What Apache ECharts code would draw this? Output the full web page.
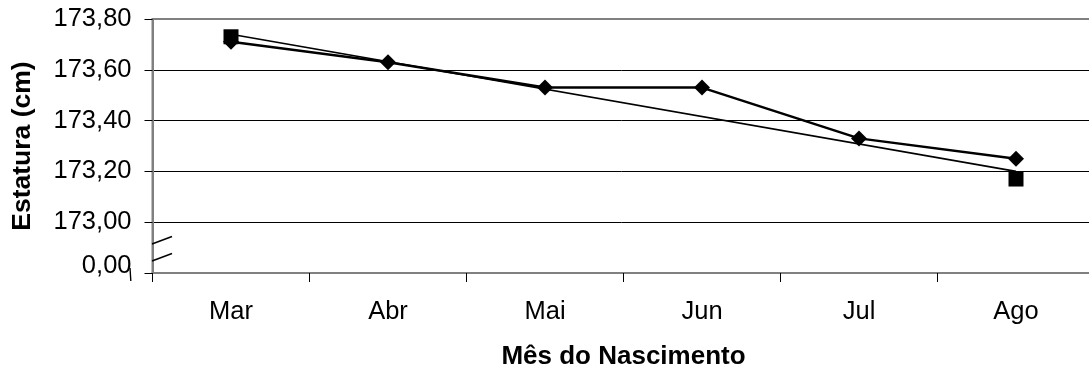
<!DOCTYPE html>
<html>
<head>
<meta charset="utf-8">
<script src="https://cdn.jsdelivr.net/npm/echarts@6/dist/echarts.min.js"></script>
<style>
  html, body { margin: 0; padding: 0; background: #fff; }
  #chart { width: 1089px; height: 372px; }
</style>
</head>
<body>
<div id="chart"></div>
<script>
// Month of birth and mean height (cm)
const months = ['Mar', 'Abr', 'Mai', 'Jun', 'Jul', 'Ago'];
const heightMean = [173.71, 173.63, 173.53, 173.53, 173.33, 173.25];
// Square markers at the two ends of the period
const heightEnds = [173.73, null, null, null, null, 173.17];
// Linear trend across the months (end points only)
const heightTrend = [173.74, null, null, null, null, 173.20];
// Axis scale: the lowest tick stands for the broken-off zero
const yMin = 172.8, yMax = 173.8, yStep = 0.2;

const FONT = 'Arial, "Liberation Sans", sans-serif';

const chart = echarts.init(document.getElementById('chart'), null, { renderer: 'canvas' });

chart.setOption({
  animation: false,
  backgroundColor: '#fff',
  grid: {
    left: 152.5, top: 19, width: 942, height: 254,
    outerBoundsMode: 'none',
    containLabel: false,
    show: true, borderColor: '#808080', borderWidth: 2, backgroundColor: 'transparent'
  },
  xAxis: {
    type: 'category',
    data: months,
    boundaryGap: true,
    name: 'Mês do Nascimento',
    nameLocation: 'middle',
    nameGap: 71,
    nameTextStyle: { fontFamily: FONT, fontSize: 26, fontWeight: 'bold', color: '#000' },
    axisLine: { lineStyle: { color: '#808080', width: 2 } },
    axisTick: { show: true, length: 9, lineStyle: { color: '#000', width: 1 } },
    axisLabel: { fontFamily: FONT, fontSize: 25.5, color: '#000', margin: 26 },
    splitLine: { show: false }
  },
  yAxis: {
    type: 'value',
    min: yMin, max: yMax, interval: yStep,
    name: 'Estatura (cm)',
    nameLocation: 'middle',
    nameGap: 116,
    nameTextStyle: { fontFamily: FONT, fontSize: 26.5, fontWeight: 'bold', color: '#000' },
    axisLine: { show: true, lineStyle: { color: '#808080', width: 2 } },
    axisTick: { show: true, length: 8, lineStyle: { color: '#000', width: 1 } },
    axisLabel: {
      fontFamily: FONT, fontSize: 25.5, color: '#000', margin: 21,
      formatter: function (v) {
        if (Math.abs(v - yMin) < 1e-6) return '{lo|0,00}';
        return v.toFixed(2).replace('.', ',');
      },
      rich: { lo: { fontFamily: FONT, fontSize: 25.5, color: '#000', padding: [0, 0, 14, 0] } }
    },
    splitLine: {
      show: true,
      lineStyle: { color: ['#808080', '#000', '#000', '#000', '#000', '#808080'], width: 1 }
    }
  },
  series: [
    {
      name: 'Tendência',
      type: 'line',
      data: heightTrend,
      connectNulls: true,
      showSymbol: false,
      symbol: 'none',
      lineStyle: { color: '#000', width: 1.6 },
      z: 2
    },
    {
      name: 'Extremos',
      type: 'line',
      data: heightEnds,
      connectNulls: false,
      symbol: 'rect',
      symbolSize: 15,
      itemStyle: { color: '#000' },
      lineStyle: { width: 0, opacity: 0 },
      z: 3
    },
    {
      name: 'Média',
      type: 'line',
      data: heightMean,
      symbol: 'diamond',
      symbolSize: [16, 16],
      itemStyle: { color: '#000' },
      lineStyle: { color: '#000', width: 2.5 },
      z: 4
    }
  ],
  graphic: [
    // axis break marks
    { type: 'line', shape: { x1: 152, y1: 244, x2: 172, y2: 236.5 }, style: { stroke: '#000', lineWidth: 1.6 }, z: 10 },
    { type: 'line', shape: { x1: 152, y1: 261, x2: 172, y2: 253.5 }, style: { stroke: '#000', lineWidth: 1.4 }, z: 10 },
    { type: 'line', shape: { x1: 130, y1: 268, x2: 130.8, y2: 281 }, style: { stroke: '#000', lineWidth: 1.4 }, z: 10 }
  ]
});
</script>
</body>
</html>
